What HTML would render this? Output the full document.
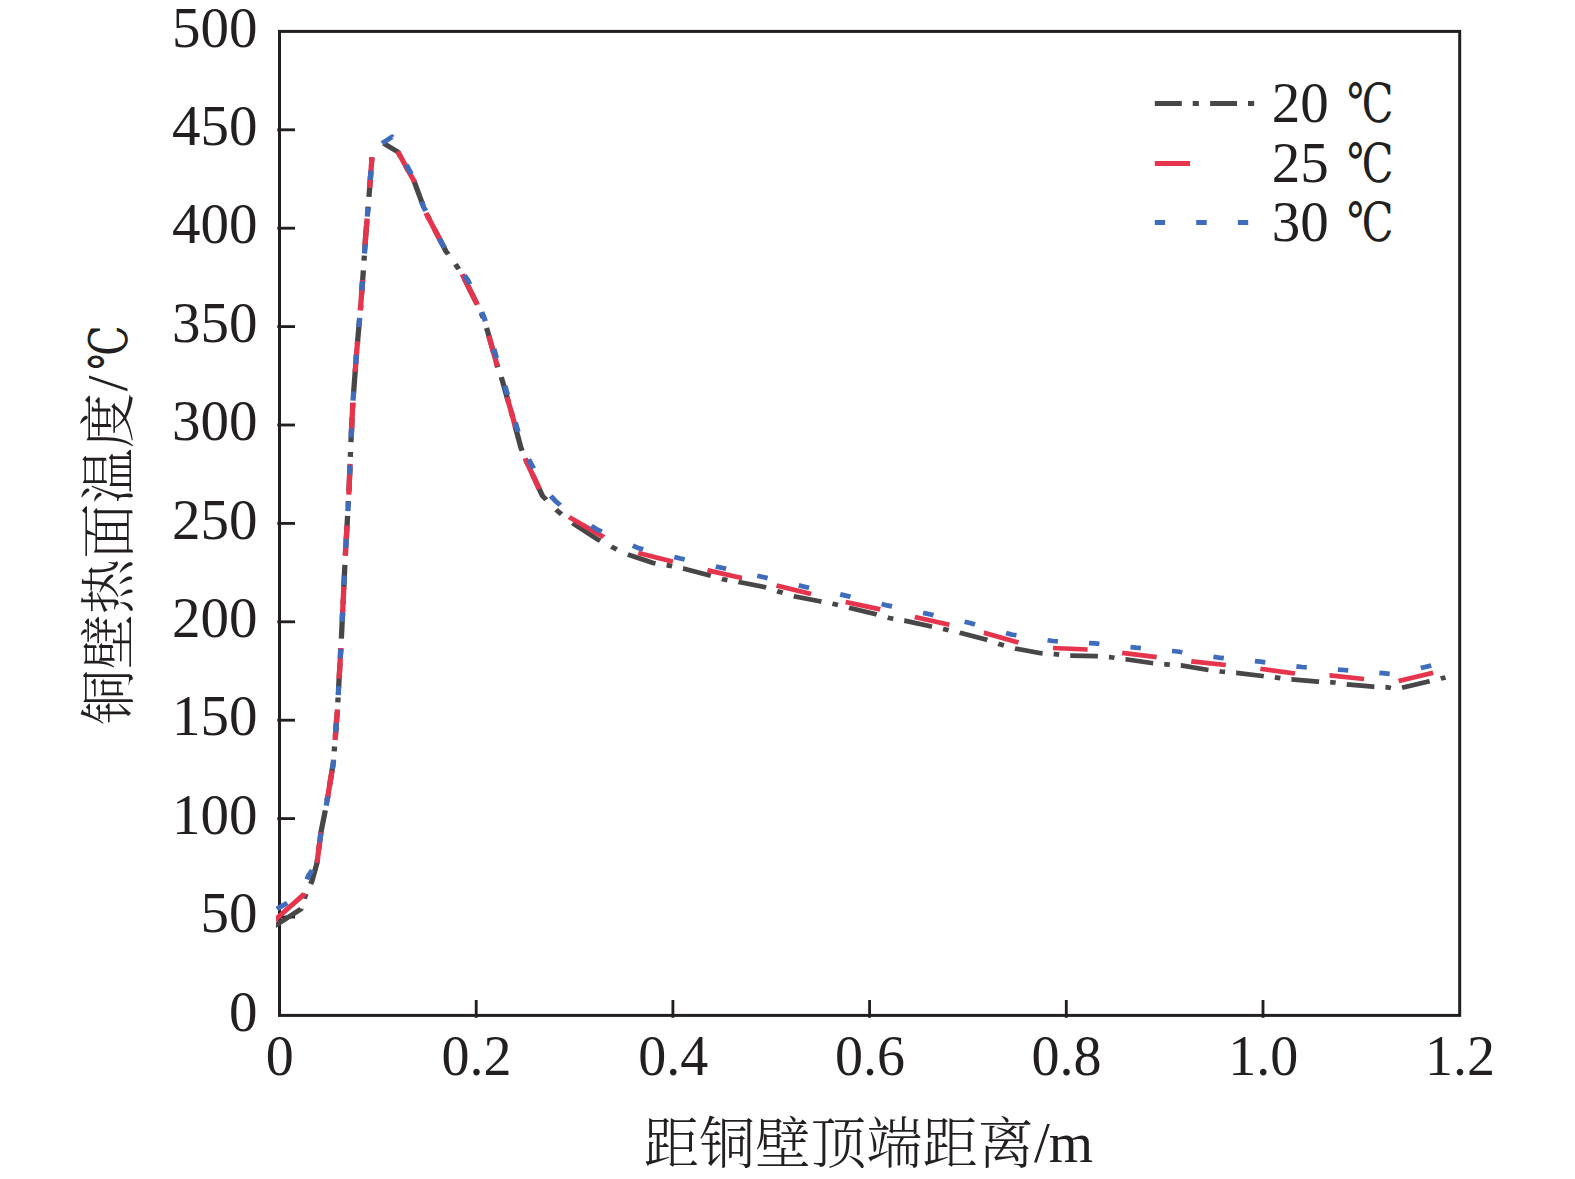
<!DOCTYPE html>
<html lang="zh"><head><meta charset="utf-8"><title>铜壁热面温度</title>
<style>html,body{margin:0;padding:0;background:#fff}body{width:1575px;height:1179px;overflow:hidden}svg{display:block}</style>
</head><body>
<svg width="1575" height="1179" viewBox="0 0 1575 1179">
<rect width="1575" height="1179" fill="#fff"/>
<defs><clipPath id="plot"><rect x="276" y="31.4" width="1183.7" height="984.0"/></clipPath></defs>
<rect x="279.5" y="31.4" width="1180.2" height="984.0" fill="none" stroke="#231f20" stroke-width="3.0"/>
<line x1="277.3" y1="917.00" x2="295.0" y2="917.00" stroke="#231f20" stroke-width="2.85"/>
<line x1="277.3" y1="818.60" x2="295.0" y2="818.60" stroke="#231f20" stroke-width="2.85"/>
<line x1="277.3" y1="720.20" x2="295.0" y2="720.20" stroke="#231f20" stroke-width="2.85"/>
<line x1="277.3" y1="621.80" x2="295.0" y2="621.80" stroke="#231f20" stroke-width="2.85"/>
<line x1="277.3" y1="523.40" x2="295.0" y2="523.40" stroke="#231f20" stroke-width="2.85"/>
<line x1="277.3" y1="425.00" x2="295.0" y2="425.00" stroke="#231f20" stroke-width="2.85"/>
<line x1="277.3" y1="326.60" x2="295.0" y2="326.60" stroke="#231f20" stroke-width="2.85"/>
<line x1="277.3" y1="228.20" x2="295.0" y2="228.20" stroke="#231f20" stroke-width="2.85"/>
<line x1="277.3" y1="129.80" x2="295.0" y2="129.80" stroke="#231f20" stroke-width="2.85"/>
<line x1="476.20" y1="1017.8" x2="476.20" y2="1000.0" stroke="#231f20" stroke-width="2.85"/>
<line x1="672.90" y1="1017.8" x2="672.90" y2="1000.0" stroke="#231f20" stroke-width="2.85"/>
<line x1="869.60" y1="1017.8" x2="869.60" y2="1000.0" stroke="#231f20" stroke-width="2.85"/>
<line x1="1066.30" y1="1017.8" x2="1066.30" y2="1000.0" stroke="#231f20" stroke-width="2.85"/>
<line x1="1263.00" y1="1017.8" x2="1263.00" y2="1000.0" stroke="#231f20" stroke-width="2.85"/>
<g clip-path="url(#plot)"><g transform="scale(1.1266 1)">
<path d="M243.12 926.5 L267.18 909.0 L267.31 908.5 M270.12 898.7 L271.17 895.0 L271.67 893.8 M275.71 884.0 L276.94 881.0 L281.38 863.0 L281.79 859.4 M282.91 849.6 L283.47 844.7 M284.60 834.9 L284.93 832.0 L288.77 810.3 M290.35 800.5 L291.06 795.6 M292.50 785.8 L295.85 763.0 L295.97 761.3 M296.64 751.4 L296.98 746.5 M297.65 736.7 L299.34 712.2 M299.86 702.4 L300.10 697.5 M300.58 687.6 L301.79 663.1 M302.27 653.3 L302.52 648.4 M303.00 638.6 L303.12 636.0 L304.05 614.0 M304.47 604.2 L304.67 599.3 M305.09 589.5 L306.12 564.9 M306.54 555.1 L306.79 550.2 M307.29 540.4 L308.54 515.8 M309.04 506.0 L309.29 501.1 M309.74 491.3 L310.62 466.8 M310.97 456.9 L311.15 452.0 M311.50 442.2 L311.56 440.7 L312.56 417.7 M312.99 407.9 L313.20 403.0 M313.84 393.1 L315.48 368.6 M316.14 358.8 L316.47 353.9 M317.21 344.1 L319.13 319.5 M319.90 309.7 L319.99 308.5 L320.24 304.8 M320.90 295.0 L322.21 275.4 L322.51 270.4 M323.10 260.6 L323.39 255.7 M323.98 245.9 L324.52 237.0 L325.67 221.3 M326.40 211.5 L326.76 206.6 M327.49 196.8 L327.89 191.4 L329.17 172.3 M329.83 162.4 L330.16 157.5 M340.40 143.2 L353.28 152.0 L355.32 156.2 M360.13 166.0 L362.53 170.9 M367.34 180.7 L367.48 181.0 L375.45 205.3 M379.11 215.1 L381.38 220.0 M385.91 229.8 L395.70 251.0 L397.87 254.3 M404.22 264.2 L404.76 265.0 L407.17 269.1 M412.25 278.9 L422.51 302.0 L423.10 303.4 M427.12 313.2 L428.46 316.5 L428.94 318.2 M431.83 328.0 L432.72 331.0 L438.05 352.5 M440.49 362.3 L441.15 365.0 L441.84 367.2 M444.84 377.1 L445.59 379.5 L451.19 401.6 M453.68 411.4 L454.46 414.5 L454.90 416.3 M457.24 426.1 L462.36 447.6 L463.46 450.7 M466.97 460.5 L468.99 465.4 M473.01 475.2 L481.54 496.0 L484.90 499.8 M493.67 509.6 L495.12 511.2 L498.41 514.2 M508.22 523.2 L530.09 539.2 L532.77 540.8 M542.58 546.7 L543.67 547.3 L547.49 549.3 M557.31 554.5 L579.80 563.0 L581.85 563.4 M591.67 565.2 L592.93 565.4 L596.57 566.2 M606.39 568.5 L606.43 568.5 L628.44 575.0 L630.93 575.8 M640.75 579.0 L641.75 579.3 L645.66 580.1 M655.47 581.9 L655.78 582.0 L678.32 587.0 L680.02 587.6 M689.83 591.1 L690.93 591.5 L694.74 592.8 M704.56 596.2 L727.59 601.3 L729.10 601.6 M738.92 603.7 L740.19 604.0 L743.82 605.0 M753.64 607.8 L776.67 614.0 L778.18 614.5 M788.00 617.6 L789.28 618.0 L792.91 618.7 M802.72 620.6 L802.77 620.6 L825.85 626.3 L827.27 626.6 M837.08 629.0 L838.54 629.3 L841.99 630.2 M851.81 632.7 L852.12 632.8 L874.93 639.5 L876.35 640.0 M886.17 643.7 L887.63 644.3 L891.07 645.4 M900.89 648.5 L923.84 653.2 L925.43 653.3 M935.25 654.1 L936.45 654.2 L940.16 654.6 M949.97 655.6 L950.03 655.6 L973.10 656.2 L974.52 656.3 M984.33 657.1 L985.71 657.2 L989.24 657.8 M999.06 659.3 L999.11 659.3 L1022.19 663.0 L1023.60 663.1 M1033.42 664.2 L1034.79 664.3 L1038.32 664.6 M1048.14 665.4 L1048.29 665.4 L1071.37 669.8 L1072.68 670.0 M1082.50 671.3 L1083.79 671.5 L1087.41 671.9 M1097.22 672.9 L1097.37 672.9 L1120.54 676.0 L1121.77 676.2 M1131.58 677.4 L1133.14 677.6 L1136.49 678.1 M1146.31 679.4 L1146.37 679.4 L1169.63 681.6 L1170.85 681.7 M1180.67 682.2 L1182.32 682.3 L1185.57 682.8 M1195.39 684.3 L1218.71 686.7 L1219.93 686.8 M1229.75 687.2 L1231.14 687.3 L1234.66 688.0 M1244.47 687.8 L1267.89 681.6 L1269.02 681.3 M1278.83 678.6 L1283.06 677.4" fill="none" stroke="#484647" stroke-width="4.7" stroke-linejoin="round"/>
<path d="M240.10 923.8 L269.66 894.5 L270.26 893.4 M281.41 862.7 L284.93 832.0 M290.23 801.3 L294.72 770.7 M297.43 740.0 L299.49 710.0 L299.52 709.3 M301.03 678.6 L302.54 648.0 M303.91 617.3 L305.21 586.6 M306.50 555.9 L308.06 525.3 M309.62 494.6 L310.72 463.9 M311.88 433.2 L313.22 402.5 M315.26 371.9 L316.62 351.7 L317.44 341.2 M319.83 310.5 L319.99 308.5 L321.91 279.8 M323.79 249.2 L324.52 237.0 L325.89 218.5 M328.13 187.8 L330.19 157.1 M352.87 151.5 L353.28 152.0 L367.48 181.0 L367.88 182.2 M378.10 212.9 L392.28 243.6 M410.20 274.3 L422.51 302.0 L423.71 304.9 M433.86 335.6 L441.15 365.0 L441.54 366.3 M450.02 397.0 L454.46 414.5 L457.60 427.6 M466.19 458.3 L466.89 460.3 L478.66 489.0 M505.21 517.1 L535.77 537.0 L535.89 537.1 M566.56 553.1 L596.75 561.6 L597.24 561.7 M627.92 570.3 L628.35 570.4 L658.44 578.0 L658.60 578.0 M689.27 585.4 L719.95 594.1 M750.63 602.0 L781.30 609.4 M811.98 617.0 L842.66 624.7 M873.33 632.8 L873.42 632.8 L904.01 642.6 M934.69 648.0 L965.37 649.5 M996.04 652.8 L1026.72 657.2 M1057.40 661.3 L1088.07 665.0 M1118.75 668.8 L1149.43 673.5 M1180.11 675.3 L1180.28 675.3 L1210.78 679.0 M1241.46 680.9 L1272.14 672.7" fill="none" stroke="#e5344b" stroke-width="4.7" stroke-linejoin="round"/>
<path d="M245.78 908.9 L254.99 903.1 M272.43 879.3 L274.19 875.0 L277.12 870.1 M283.73 842.5 L284.78 833.3 M289.59 805.7 L290.94 796.5 M294.99 768.9 L295.85 763.0 L296.08 759.7 M297.97 732.1 L298.60 722.9 M300.21 695.2 L300.66 686.0 M302.02 658.4 L302.47 649.2 M303.73 621.6 L304.12 612.4 M305.28 584.8 L305.67 575.6 M306.91 548.0 L307.37 538.8 M308.78 511.2 L309.25 502.0 M310.35 474.4 L310.68 465.2 M311.69 437.6 L312.10 428.4 M313.33 400.7 L313.94 391.5 M315.80 363.9 L316.41 354.7 M318.54 327.1 L319.25 317.9 M321.21 290.3 L321.83 281.1 M323.53 253.5 L324.08 244.3 M326.02 216.7 L326.70 207.5 M328.66 179.9 L329.28 170.7 M339.13 143.3 L347.95 136.8 L348.11 137.2 M360.60 164.8 L363.39 170.6 L365.02 174.0 M374.37 201.6 L376.00 207.2 L377.95 210.8 M390.08 238.4 L392.33 243.6 L394.65 247.6 M412.17 275.2 L415.41 280.5 L416.95 284.4 M427.61 312.0 L429.61 317.4 L430.79 321.2 M438.36 348.9 L439.73 354.2 L440.68 358.1 M448.18 385.7 L449.49 391.0 L450.49 394.9 M457.52 422.5 L458.90 428.0 L459.82 431.7 M469.28 459.3 L471.68 464.4 L473.62 468.5 M488.89 496.1 L493.08 501.1 L497.29 505.1 M524.90 525.9 L530.18 529.6 L534.10 531.6 M561.71 545.7 L566.31 548.0 L570.91 549.3 M598.52 557.0 L603.05 558.3 L607.73 559.5 M635.33 566.5 L640.42 567.8 L644.54 568.8 M672.15 575.8 L677.08 577.0 L681.35 578.1 M708.96 585.4 L714.01 586.7 L718.16 587.7 M745.77 594.4 L750.49 595.6 L754.98 596.8 M782.58 604.1 L787.32 605.4 L791.79 606.4 M819.40 612.9 L824.07 614.0 L828.60 615.1 M856.21 621.8 L861.00 623.0 L865.41 624.4 M893.02 633.0 L897.66 634.5 L902.23 635.3 M929.84 640.2 L934.67 641.0 L939.04 641.3 M966.65 643.1 L971.68 643.4 L975.85 643.9 M1003.46 647.1 L1008.34 647.7 L1012.66 648.1 M1040.27 651.0 L1045.09 651.5 L1049.48 652.2 M1077.09 656.8 L1082.02 657.6 L1086.29 658.1 M1113.90 661.2 L1118.68 661.7 L1123.10 662.3 M1150.71 666.3 L1155.69 667.0 L1159.91 667.3 M1187.52 669.6 L1192.61 670.0 L1196.73 670.4 M1224.34 672.8 L1229.36 673.3 L1233.54 673.8 M1261.15 668.1 L1266.11 666.7 L1270.35 665.5" fill="none" stroke="#3f6cbd" stroke-width="4.7" stroke-linejoin="round"/>
</g></g>
<text x="257.4" y="1030.6" text-anchor="end" style="font-family:'Liberation Serif',serif;font-size:57px" fill="#231f20">0</text>
<text x="257.4" y="932.2" text-anchor="end" style="font-family:'Liberation Serif',serif;font-size:57px" fill="#231f20">50</text>
<text x="257.4" y="833.8" text-anchor="end" style="font-family:'Liberation Serif',serif;font-size:57px" fill="#231f20">100</text>
<text x="257.4" y="735.4" text-anchor="end" style="font-family:'Liberation Serif',serif;font-size:57px" fill="#231f20">150</text>
<text x="257.4" y="637.0" text-anchor="end" style="font-family:'Liberation Serif',serif;font-size:57px" fill="#231f20">200</text>
<text x="257.4" y="538.6" text-anchor="end" style="font-family:'Liberation Serif',serif;font-size:57px" fill="#231f20">250</text>
<text x="257.4" y="440.2" text-anchor="end" style="font-family:'Liberation Serif',serif;font-size:57px" fill="#231f20">300</text>
<text x="257.4" y="341.8" text-anchor="end" style="font-family:'Liberation Serif',serif;font-size:57px" fill="#231f20">350</text>
<text x="257.4" y="243.4" text-anchor="end" style="font-family:'Liberation Serif',serif;font-size:57px" fill="#231f20">400</text>
<text x="257.4" y="145.0" text-anchor="end" style="font-family:'Liberation Serif',serif;font-size:57px" fill="#231f20">450</text>
<text x="257.4" y="46.6" text-anchor="end" style="font-family:'Liberation Serif',serif;font-size:57px" fill="#231f20">500</text>
<text x="279.8" y="1075.2" text-anchor="middle" style="font-family:'Liberation Serif',serif;font-size:56px" fill="#231f20">0</text>
<text x="476.5" y="1075.2" text-anchor="middle" style="font-family:'Liberation Serif',serif;font-size:56px" fill="#231f20">0.2</text>
<text x="673.2" y="1075.2" text-anchor="middle" style="font-family:'Liberation Serif',serif;font-size:56px" fill="#231f20">0.4</text>
<text x="869.9" y="1075.2" text-anchor="middle" style="font-family:'Liberation Serif',serif;font-size:56px" fill="#231f20">0.6</text>
<text x="1066.6" y="1075.2" text-anchor="middle" style="font-family:'Liberation Serif',serif;font-size:56px" fill="#231f20">0.8</text>
<text x="1263.3" y="1075.2" text-anchor="middle" style="font-family:'Liberation Serif',serif;font-size:56px" fill="#231f20">1.0</text>
<text x="1460.0" y="1075.2" text-anchor="middle" style="font-family:'Liberation Serif',serif;font-size:56px" fill="#231f20">1.2</text>
<text x="643.4" y="1163.4" style="font-family:'Liberation Serif','Noto Serif CJK SC',serif;font-weight:300;font-size:55.75px" fill="#231f20">距铜壁顶端距离</text>
<text x="1034.0" y="1162" style="font-family:'Liberation Serif',serif;font-size:57px" fill="#231f20">/<tspan dx="-1.2">m</tspan></text>
<text transform="translate(127.5,724.8) rotate(-90)" style="font-family:'Liberation Serif','Noto Serif CJK SC',serif;font-weight:300;font-size:55.3px" fill="#231f20">铜壁热面温度</text>
<text transform="translate(126.5,391.2) rotate(-90)" style="font-family:'Liberation Serif',serif;font-size:57px" fill="#231f20">/</text>
<text transform="translate(126.5,369.8) rotate(-90) scale(0.75,1)" style="font-family:'DejaVu Serif','Noto Serif CJK SC',serif;font-size:53px" fill="#231f20">℃</text>
<line x1="1154.8" y1="103.5" x2="1181.8" y2="103.5" stroke="#484647" stroke-width="5"/>
<line x1="1192.7" y1="103.5" x2="1198.9" y2="103.5" stroke="#484647" stroke-width="5"/>
<line x1="1210.1" y1="103.5" x2="1237" y2="103.5" stroke="#484647" stroke-width="5"/>
<line x1="1248" y1="103.5" x2="1254.2" y2="103.5" stroke="#484647" stroke-width="5"/>
<line x1="1154.8" y1="163.45" x2="1190.1" y2="163.45" stroke="#e5344b" stroke-width="5"/>
<line x1="1154.8" y1="222.5" x2="1165.1" y2="222.5" stroke="#3f6cbd" stroke-width="5"/>
<line x1="1196.2" y1="222.5" x2="1206.7" y2="222.5" stroke="#3f6cbd" stroke-width="5"/>
<line x1="1237.9" y1="222.5" x2="1248.2" y2="222.5" stroke="#3f6cbd" stroke-width="5"/>
<text x="1271.8" y="121.8" style="font-family:'Liberation Serif',serif;font-size:57px" fill="#231f20">20</text>
<text transform="translate(1346.9,122.2) scale(0.77,1)" style="font-family:'DejaVu Serif','Noto Serif CJK SC',serif;font-size:54px" fill="#231f20">℃</text>
<text x="1271.8" y="181.8" style="font-family:'Liberation Serif',serif;font-size:57px" fill="#231f20">25</text>
<text transform="translate(1346.9,182.20000000000002) scale(0.77,1)" style="font-family:'DejaVu Serif','Noto Serif CJK SC',serif;font-size:54px" fill="#231f20">℃</text>
<text x="1271.8" y="240.8" style="font-family:'Liberation Serif',serif;font-size:57px" fill="#231f20">30</text>
<text transform="translate(1346.9,241.20000000000002) scale(0.77,1)" style="font-family:'DejaVu Serif','Noto Serif CJK SC',serif;font-size:54px" fill="#231f20">℃</text>
</svg>
</body></html>
